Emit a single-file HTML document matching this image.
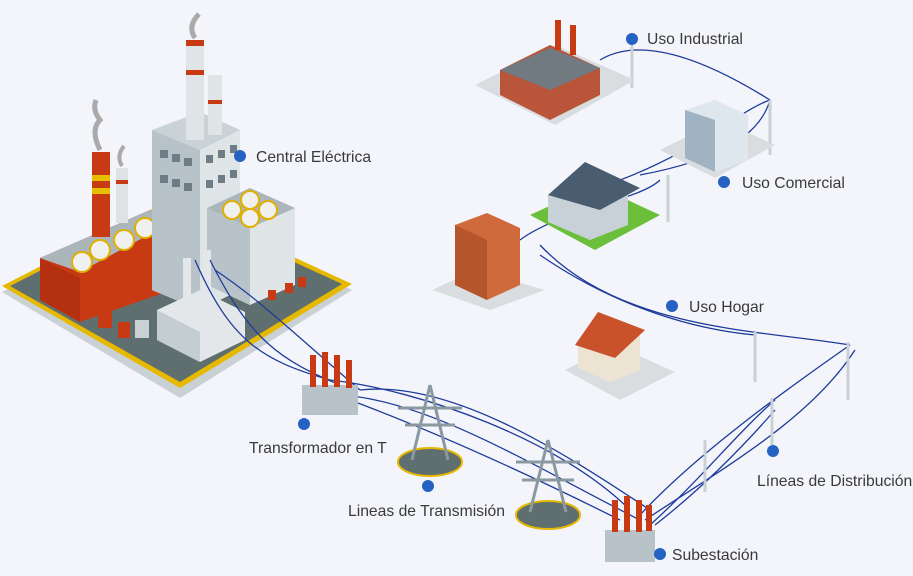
<!DOCTYPE html>
<html><head><meta charset="utf-8"><style>
html,body{margin:0;padding:0;background:#f3f5fb;}
svg{display:block}
text{font-family:"Liberation Sans",sans-serif;font-size:15.7px;fill:#3a3a3a}
</style></head><body>
<svg width="913" height="576" viewBox="0 0 913 576" xmlns="http://www.w3.org/2000/svg">
<rect width="913" height="576" fill="#f3f5fb"/>
<!-- platform -->
<polygon points="2,292 170,205 352,290 180,398" fill="#c9d1d5"/>
<polygon points="2,286 170,200 352,284 180,388" fill="#e6b800"/>
<polygon points="10,286 170,205 342,284 180,382" fill="#5f6e6e"/>
<!-- orange building -->
<polygon points="40,258 150,210 172,222 172,290 80,322 40,300" fill="#c83a14"/>
<polygon points="40,258 80,278 80,322 40,300" fill="#b5300e"/>
<polygon points="40,258 150,210 172,222 80,272" fill="#aab6ba"/>
<circle cx="82" cy="262" r="10" fill="#f0f0f0" stroke="#e0b000" stroke-width="2"/>
<circle cx="100" cy="250" r="10" fill="#f0f0f0" stroke="#e0b000" stroke-width="2"/>
<circle cx="124" cy="240" r="10" fill="#f0f0f0" stroke="#e0b000" stroke-width="2"/>
<circle cx="145" cy="228" r="10" fill="#f0f0f0" stroke="#e0b000" stroke-width="2"/>
<!-- chimneys -->
<rect x="92" y="152" width="18" height="85" fill="#c83a14"/>
<rect x="92" y="175" width="18" height="6" fill="#e6c000"/>
<rect x="92" y="188" width="18" height="6" fill="#e6c000"/>
<rect x="116" y="168" width="12" height="55" fill="#dde2e5"/>
<rect x="116" y="180" width="12" height="4" fill="#c83a14"/>
<path d="M100 150 q-10 -20 0 -30 q-8 -10 -4 -20" stroke="#aaa" stroke-width="5" fill="none"/>
<path d="M122 166 q-6 -10 2 -20" stroke="#aaa" stroke-width="4" fill="none"/>
<!-- tall tower -->
<polygon points="152,130 200,112 240,130 240,290 200,310 152,290" fill="#dfe4e7"/>
<polygon points="152,130 200,150 200,310 152,290" fill="#b7c3c9"/>
<polygon points="152,130 200,112 240,130 200,150" fill="#c9d2d6"/>
<rect x="186" y="40" width="18" height="100" fill="#dfe4e7"/>
<rect x="186" y="70" width="18" height="5" fill="#c83a14"/>
<rect x="186" y="40" width="18" height="6" fill="#c83a14"/>
<rect x="208" y="75" width="14" height="60" fill="#dfe4e7"/>
<rect x="208" y="100" width="14" height="4" fill="#c83a14"/>
<path d="M195 38 q-8 -12 4 -24" stroke="#aaa" stroke-width="5" fill="none"/>
<g fill="#6d7c85">
<rect x="160" y="150" width="8" height="8"/><rect x="172" y="154" width="8" height="8"/><rect x="184" y="158" width="8" height="8"/>
<rect x="160" y="175" width="8" height="8"/><rect x="172" y="179" width="8" height="8"/><rect x="184" y="183" width="8" height="8"/>
<rect x="206" y="155" width="7" height="8"/><rect x="218" y="150" width="7" height="8"/><rect x="230" y="145" width="7" height="8"/>
<rect x="206" y="180" width="7" height="8"/><rect x="218" y="175" width="7" height="8"/><rect x="230" y="170" width="7" height="8"/>
</g>
<!-- cube building -->
<polygon points="207,208 250,188 295,208 295,285 250,305 207,285" fill="#dfe4e7"/>
<polygon points="207,208 250,228 250,305 207,285" fill="#b7c3c9"/>
<polygon points="207,208 250,188 295,208 250,228" fill="#aab6ba"/>
<circle cx="232" cy="210" r="9" fill="#f0f0f0" stroke="#e0b000" stroke-width="2"/>
<circle cx="250" cy="200" r="9" fill="#f0f0f0" stroke="#e0b000" stroke-width="2"/>
<circle cx="268" cy="210" r="9" fill="#f0f0f0" stroke="#e0b000" stroke-width="2"/>
<circle cx="250" cy="218" r="9" fill="#f0f0f0" stroke="#e0b000" stroke-width="2"/>
<!-- substation box -->
<polygon points="157,310 200,290 245,312 245,340 200,362 157,340" fill="#e3e7ea"/>
<polygon points="157,310 200,332 200,362 157,340" fill="#c3cdd2"/>
<rect x="183" y="258" width="8" height="60" fill="#e3e7ea"/>
<rect x="203" y="250" width="8" height="60" fill="#e3e7ea"/>
<!-- drums -->
<g fill="#c83a14"><rect x="98" y="310" width="14" height="18"/><rect x="118" y="322" width="12" height="16"/><rect x="268" y="290" width="8" height="10"/><rect x="285" y="283" width="8" height="10"/><rect x="298" y="277" width="8" height="10"/></g>
<rect x="135" y="320" width="14" height="18" fill="#c9d1d5"/>
<!-- wires -->
<g stroke="#1f3b9a" stroke-width="1.3" fill="none">
<path d="M195 260 C230 340 260 360 330 380"/>
<path d="M210 260 C250 340 280 360 340 385"/>
<path d="M215 270 C260 300 290 330 360 390"/>
<path d="M330 380 C420 390 560 440 630 510"/>
<path d="M340 395 C430 400 540 470 640 520"/>
<path d="M360 390 C450 380 560 450 650 510"/>
<path d="M350 400 C430 430 520 470 620 520"/>
<path d="M640 515 C700 450 800 380 850 345"/>
<path d="M645 520 C720 470 810 420 855 350"/>
<path d="M650 525 C700 480 740 430 775 400"/>
<path d="M655 525 C700 490 740 450 775 410"/>
<path d="M540 245 C620 330 760 330 850 345"/>
<path d="M540 255 C620 310 700 330 755 335"/>
<path d="M620 180 C700 150 740 110 770 100"/>
<path d="M640 175 C720 160 760 135 770 100"/>
<path d="M600 60 C650 30 730 75 770 100"/>
<path d="M520 240 C560 210 640 200 660 180"/>
</g>
<!-- transformer T -->
<rect x="302" y="385" width="56" height="30" fill="#b7c3c9"/>
<g fill="#c83a14"><rect x="310" y="355" width="6" height="32"/><rect x="322" y="352" width="6" height="35"/><rect x="334" y="355" width="6" height="32"/><rect x="346" y="360" width="6" height="28"/></g>
<!-- towers -->
<ellipse cx="430" cy="462" rx="32" ry="14" fill="#5f6e6e" stroke="#e6b800" stroke-width="2"/>
<path d="M430 385 L412 460 M430 385 L448 460 M398 408 L462 408 M405 425 L455 425" stroke="#8a98a0" stroke-width="3" fill="none"/>
<ellipse cx="548" cy="515" rx="32" ry="14" fill="#5f6e6e" stroke="#e6b800" stroke-width="2"/>
<path d="M548 440 L530 512 M548 440 L566 512 M516 462 L580 462 M522 480 L574 480" stroke="#8a98a0" stroke-width="3" fill="none"/>
<!-- substation transformer -->
<rect x="605" y="530" width="50" height="32" fill="#b7c3c9"/>
<g fill="#c83a14"><rect x="612" y="500" width="6" height="32"/><rect x="624" y="496" width="6" height="36"/><rect x="636" y="500" width="6" height="32"/><rect x="646" y="505" width="6" height="26"/></g>
<!-- poles -->
<g stroke="#c9d1d5" stroke-width="3">
<line x1="632" y1="40" x2="632" y2="88"/><line x1="770" y1="100" x2="770" y2="155"/><line x1="668" y1="175" x2="668" y2="222"/>
<line x1="755" y1="332" x2="755" y2="382"/><line x1="848" y1="342" x2="848" y2="400"/><line x1="772" y1="398" x2="772" y2="445"/><line x1="705" y1="440" x2="705" y2="492"/>
</g>
<!-- factory industrial -->
<polygon points="475,85 555,45 635,80 555,125" fill="#d9dde0"/>
<polygon points="500,70 550,45 600,68 600,95 550,120 500,95" fill="#b8553a"/>
<polygon points="500,70 550,48 600,68 550,90" fill="#707a80"/>
<rect x="555" y="20" width="6" height="30" fill="#c83a14"/><rect x="570" y="25" width="6" height="30" fill="#c83a14"/>
<!-- commercial -->
<polygon points="660,150 720,120 775,145 715,178" fill="#d9dde0"/>
<polygon points="685,110 715,100 748,115 748,160 715,172 685,158" fill="#dfe7ee"/>
<polygon points="685,110 715,120 715,172 685,158" fill="#9fb3c2"/>
<!-- house 1 -->
<polygon points="530,215 595,185 660,215 595,250" fill="#6cbf3a"/>
<polygon points="548,195 585,165 628,185 628,225 590,240 548,222" fill="#c8d0d8"/>
<polygon points="548,195 585,162 640,188 600,210" fill="#4a5c70"/>
<!-- brick building -->
<polygon points="432,290 475,270 545,290 490,310" fill="#d9dde0"/>
<polygon points="455,225 487,213 520,228 520,285 487,300 455,285" fill="#d06a3c"/>
<polygon points="455,225 487,240 487,300 455,285" fill="#b4552c"/>
<!-- house 2 -->
<polygon points="565,370 615,345 675,372 620,400" fill="#d9dde0"/>
<polygon points="578,340 600,315 640,330 640,370 610,382 578,368" fill="#ede3d3"/>
<polygon points="575,345 598,312 645,330 615,358" fill="#c9522a"/>
<!-- dots -->
<g fill="#2563c2">
<circle cx="240" cy="156" r="6"/><circle cx="632" cy="39" r="6"/><circle cx="724" cy="182" r="6"/><circle cx="672" cy="306" r="6"/>
<circle cx="304" cy="424" r="6"/><circle cx="428" cy="486" r="6"/><circle cx="773" cy="451" r="6"/><circle cx="660" cy="554" r="6"/>
</g>
<text x="256" y="162">Central Eléctrica</text>
<text x="647" y="44">Uso Industrial</text>
<text x="742" y="188">Uso Comercial</text>
<text x="689" y="312">Uso Hogar</text>
<text x="249" y="453">Transformador en T</text>
<text x="348" y="516">Lineas de Transmisión</text>
<text x="757" y="486">Líneas de Distribución</text>
<text x="672" y="560">Subestación</text>
</svg>
</body></html>
